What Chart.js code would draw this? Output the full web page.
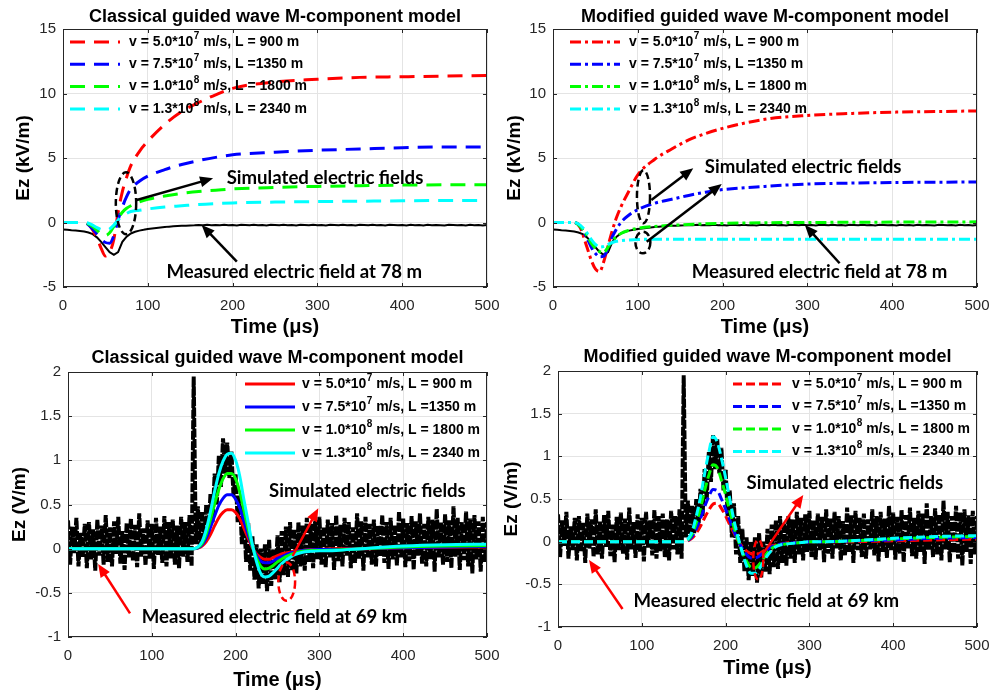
<!DOCTYPE html>
<html>
<head>
<meta charset="utf-8">
<script src="https://cdn.jsdelivr.net/npm/chart.js@4.4.0/dist/chart.umd.min.js"></script>
<style>
  body { margin: 0; background: #fff; }
  .panel { position: absolute; }
</style>
</head>
<body>
<div class="panel" style="left:0;top:0;width:500px;height:340px"><canvas id="tl"></canvas></div>
<div class="panel" style="left:500px;top:0;width:503px;height:340px"><canvas id="tr"></canvas></div>
<div class="panel" style="left:0;top:340px;width:500px;height:353px"><canvas id="bl"></canvas></div>
<div class="panel" style="left:500px;top:340px;width:503px;height:353px"><canvas id="br"></canvas></div>
<script>
// tick labels
var xTicks = [0, 100, 200, 300, 400, 500];
var yTicksKv = [-5, 0, 5, 10, 15];
var yTicksV = [-1, -0.5, 0, 0.5, 1, 1.5, 2];

// legend entries (v, L) for the four simulated cases
var legendPre = ['v = 5.0*10', 'v = 7.5*10', 'v = 1.0*10', 'v = 1.3*10'];
var legendExp = ['7', '7', '8', '8'];
var legendPost = [' m/s, L = 900 m', ' m/s, L =1350 m', ' m/s, L = 1800 m', ' m/s, L = 2340 m'];
var seriesColors = ['#ff0000', '#0000ff', '#00ff00', '#00ffff'];

// measured field at 78 m (kV/m), sampled every 5 us from 0 to 500 us
var measTopStep = 5;
var measTop = [
  -0.55, -0.57, -0.6, -0.62, -0.66, -0.7, -0.78, -0.9, -1.15, -1.5,
  -1.9, -2.3, -2.5, -2.3, -1.5, -1.1, -0.85, -0.72, -0.63, -0.57,
  -0.5, -0.46, -0.42, -0.38, -0.35, -0.32, -0.3, -0.28, -0.26, -0.25,
  -0.23, -0.22, -0.2, -0.21, -0.18, -0.22, -0.19, -0.21, -0.17, -0.22,
  -0.19, -0.23, -0.18, -0.2, -0.22, -0.17, -0.21, -0.19, -0.23, -0.18,
  -0.2, -0.22, -0.17, -0.21, -0.19, -0.24, -0.18, -0.2, -0.22, -0.17,
  -0.21, -0.19, -0.23, -0.18, -0.2, -0.22, -0.17, -0.21, -0.2, -0.24,
  -0.18, -0.2, -0.22, -0.17, -0.21, -0.19, -0.23, -0.18, -0.2, -0.22,
  -0.19, -0.24, -0.18, -0.21, -0.2, -0.23, -0.17, -0.22, -0.19, -0.21,
  -0.24, -0.18, -0.2, -0.22, -0.19, -0.23, -0.18, -0.21, -0.2, -0.24,
  -0.2
];

// measured field at 69 km (V/m), sampled every 2.5 us from 0 to 500 us
var measBotStep = 2.5;
var measBot = [
  0.32, -0.18, 0.25, -0.05, 0.35, -0.2, 0.18, -0.1, 0.28, -0.22,
  0.3, -0.12, 0.22, -0.25, 0.33, -0.08, 0.26, -0.18, 0.38, -0.15,
  0.24, -0.2, 0.31, -0.06, 0.36, -0.17, 0.2, -0.24, 0.29, -0.1,
  0.34, -0.14, 0.27, -0.21, 0.4, -0.09, 0.23, -0.19, 0.32, -0.12,
  0.28, -0.23, 0.35, -0.07, 0.25, -0.16, 0.37, -0.2, 0.3, -0.11,
  0.33, -0.18, 0.26, -0.22, 0.36, -0.09, 0.3, -0.15, 0.38, -0.2,
  1.95, 0.05, 0.48, 0.02, 0.42, 0.1, 0.5, 0.15, 0.62, 0.3,
  0.85, 0.5, 1.05, 0.7, 1.25, 0.85, 1.2, 0.8, 1.1, 0.6,
  0.85, 0.3, 0.6, 0.05, 0.45, -0.15, 0.3, -0.25, 0.15, -0.35,
  0.05, -0.45, 0.0, -0.4, 0.05, -0.48, 0.1, -0.42, 0.0, -0.35,
  0.15, -0.38, 0.2, -0.3, 0.25, -0.32, 0.3, -0.25, 0.22, -0.28,
  0.3, -0.2, 0.26, -0.25, 0.35, -0.15, 0.28, -0.22, 0.32, -0.12,
  0.36, -0.18, 0.25, -0.21, 0.33, -0.1, 0.29, -0.24, 0.38, -0.14,
  0.27, -0.2, 0.35, -0.08, 0.3, -0.22, 0.24, -0.16, 0.4, -0.12,
  0.31, -0.25, 0.36, -0.1, 0.28, -0.18, 0.33, -0.2, 0.26, -0.09,
  0.38, -0.16, 0.3, -0.23, 0.35, -0.12, 0.27, -0.19, 0.42, -0.1,
  0.34, -0.21, 0.29, -0.14, 0.37, -0.24, 0.31, -0.08, 0.4, -0.17,
  0.28, -0.2, 0.36, -0.12, 0.33, -0.26, 0.45, -0.1, 0.3, -0.18,
  0.39, -0.15, 0.32, -0.22, 0.48, -0.09, 0.35, -0.24, 0.3, -0.13,
  0.42, -0.2, 0.34, -0.28, 0.38, -0.12, 0.31, -0.26, 0.36, -0.15,
  0.3
];

// simulated fields at 78 m (kV/m)
var tSimTop = [0, 25, 32, 40, 45, 50, 55, 60, 65, 70, 75, 80, 90, 100, 120, 140, 160, 180, 200, 250, 300, 350, 400, 450, 500];
var clsRedTop   = [0, 0, -0.3, -1.2, -2.0, -2.6, -2.3, -1.3, 0.8, 2.4, 3.5, 4.4, 5.5, 6.3, 7.6, 8.6, 9.3, 9.9, 10.4, 10.9, 11.1, 11.25, 11.3, 11.35, 11.4];
var clsBlueTop  = [0, 0, -0.3, -0.9, -1.3, -1.55, -1.6, -1.0, 0.2, 1.2, 2.0, 2.6, 3.2, 3.6, 4.1, 4.5, 4.8, 5.05, 5.25, 5.45, 5.6, 5.7, 5.8, 5.85, 5.85];
var clsGreenTop = [0, 0, -0.2, -0.6, -0.9, -1.0, -0.8, -0.3, 0.3, 0.8, 1.1, 1.3, 1.6, 1.8, 2.05, 2.25, 2.4, 2.5, 2.6, 2.72, 2.8, 2.85, 2.9, 2.92, 2.93];
var clsCyanTop  = [0, 0, -0.1, -0.4, -0.55, -0.6, -0.5, -0.2, 0.2, 0.5, 0.7, 0.85, 0.95, 1.05, 1.2, 1.3, 1.4, 1.47, 1.52, 1.58, 1.62, 1.65, 1.68, 1.7, 1.7];
var modRedTop   = [0, 0, -0.4, -1.9, -2.9, -3.6, -3.8, -3.0, -1.8, -0.6, 0.4, 1.2, 2.5, 3.7, 4.9, 5.7, 6.4, 6.9, 7.3, 8.0, 8.3, 8.45, 8.55, 8.6, 8.65];
var modBlueTop  = [0, 0, -0.3, -1.2, -1.9, -2.4, -2.65, -2.6, -2.0, -1.1, -0.5, 0.0, 0.6, 1.0, 1.5, 1.8, 2.1, 2.35, 2.55, 2.8, 2.98, 3.05, 3.1, 3.12, 3.14];
var modGreenTop = [0, 0, -0.3, -1.0, -1.6, -2.0, -2.25, -2.3, -1.9, -1.4, -1.1, -0.85, -0.6, -0.45, -0.3, -0.22, -0.15, -0.1, -0.07, -0.02, 0.0, 0.02, 0.03, 0.04, 0.05];
var modCyanTop  = [0, 0, -0.2, -0.8, -1.3, -1.7, -1.9, -1.85, -1.7, -1.55, -1.45, -1.4, -1.35, -1.32, -1.3, -1.3, -1.3, -1.3, -1.3, -1.3, -1.3, -1.3, -1.3, -1.3, -1.3];

// simulated fields at 69 km (V/m)
var tSimBot = [0, 100, 150, 155, 160, 165, 170, 175, 180, 185, 190, 195, 200, 205, 210, 215, 220, 225, 230, 235, 240, 245, 250, 255, 260, 265, 270, 280, 290, 300, 320, 350, 400, 450, 500];
var clsRedBot   = [0, 0, 0, 0.008, 0.03, 0.08, 0.16, 0.26, 0.35, 0.41, 0.44, 0.44, 0.41, 0.34, 0.23, 0.12, 0.01, -0.06, -0.1, -0.12, -0.12, -0.1, -0.08, -0.06, -0.05, -0.04, -0.03, -0.02, -0.01, -0.01, 0, 0, 0.01, 0.015, 0.02];
var clsBlueBot  = [0, 0, 0, 0.01, 0.045, 0.12, 0.24, 0.37, 0.49, 0.57, 0.61, 0.61, 0.56, 0.46, 0.31, 0.16, 0.02, -0.08, -0.14, -0.16, -0.16, -0.14, -0.11, -0.09, -0.07, -0.05, -0.04, -0.02, -0.015, -0.01, -0.01, 0, 0.01, 0.02, 0.025];
var clsGreenBot = [0, 0, 0, 0.015, 0.06, 0.17, 0.33, 0.51, 0.67, 0.79, 0.85, 0.85, 0.79, 0.64, 0.43, 0.22, 0.03, -0.11, -0.2, -0.23, -0.22, -0.19, -0.15, -0.12, -0.09, -0.07, -0.05, -0.03, -0.02, -0.02, -0.015, 0, 0.02, 0.03, 0.035];
var clsCyanBot  = [0, 0, 0, 0.02, 0.08, 0.22, 0.42, 0.65, 0.85, 0.99, 1.07, 1.08, 1.0, 0.82, 0.55, 0.3, 0.05, -0.15, -0.28, -0.32, -0.31, -0.27, -0.22, -0.17, -0.13, -0.1, -0.07, -0.04, -0.03, -0.025, -0.02, 0.0, 0.03, 0.045, 0.05];
var modRedBot   = [0, 0, 0, 0.01, 0.04, 0.1, 0.18, 0.28, 0.37, 0.44, 0.45, 0.39, 0.3, 0.2, 0.1, 0.01, -0.06, -0.11, -0.14, -0.15, -0.14, -0.11, -0.08, -0.05, -0.04, -0.03, -0.02, -0.01, -0.01, 0, 0, 0, 0.01, 0.02, 0.03];
var modBlueBot  = [0, 0, 0, 0.015, 0.06, 0.15, 0.27, 0.41, 0.53, 0.61, 0.6, 0.5, 0.38, 0.25, 0.12, 0.01, -0.08, -0.15, -0.19, -0.19, -0.17, -0.13, -0.09, -0.06, -0.04, -0.03, -0.02, -0.015, -0.01, 0, 0, 0.01, 0.02, 0.04, 0.05];
var modGreenBot = [0, 0, 0, 0.02, 0.09, 0.22, 0.39, 0.6, 0.78, 0.9, 0.87, 0.72, 0.55, 0.36, 0.17, 0.02, -0.12, -0.23, -0.3, -0.31, -0.27, -0.2, -0.13, -0.08, -0.05, -0.04, -0.03, -0.02, -0.01, 0, 0, 0.01, 0.03, 0.05, 0.06];
var modCyanBot  = [0, 0, 0, 0.03, 0.12, 0.3, 0.52, 0.8, 1.05, 1.23, 1.17, 0.98, 0.75, 0.5, 0.25, 0.05, -0.13, -0.28, -0.37, -0.37, -0.32, -0.24, -0.16, -0.1, -0.06, -0.04, -0.03, -0.02, -0.01, 0, 0, 0.01, 0.04, 0.06, 0.07];

var FONT = "'Liberation Sans', Arial, sans-serif";
var NOTE_FONT = "bold 18.6px Lato, 'Open Sans', sans-serif";

// annotations (texts, arrows, ellipses) in data coordinates, per canvas
var panelNotes = {
  tl: {
    color: '#000',
    texts: [[193, 3.45, 'Simulated electric fields'], [122, -3.8, 'Measured electric field at 78 m']],
    arrows: [[87, 1.74, 177, 3.43], [205, -3.04, 163.5, -0.19]],
    ellipses: [[74.3, 1.49, 12, 2.4]]
  },
  tr: {
    color: '#000',
    texts: [[179, 4.33, 'Simulated electric fields'], [163.6, -3.8, 'Measured electric field at 78 m']],
    arrows: [[116, 1.74, 165.4, 4.2], [110.5, -1.49, 199, 2.98], [338, -3.16, 297, -0.19]],
    ellipses: [[106.7, 2.0, 7.7, 2.05], [106, -1.55, 8.8, 0.84]]
  },
  bl: {
    color: '#ff0000',
    texts: [[240, 0.656, 'Simulated electric fields'], [88, -0.777, 'Measured electric field at 69 km']],
    arrows: [[268, -0.083, 298.7, 0.457], [74, -0.732, 36, -0.174]],
    ellipses: [[261, -0.374, 10, 0.217]]
  },
  br: {
    color: '#ff0000',
    texts: [[225, 0.69, 'Simulated electric fields'], [90, -0.69, 'Measured electric field at 69 km']],
    arrows: [[245, -0.137, 292.7, 0.547], [77, -0.79, 37, -0.215]],
    ellipses: [[239, -0.21, 6, 0.235]]
  }
};

// legend placement in pixels relative to the plot box
var panelLegends = {
  tl: { side: 'left', lineX: 7, textX: 66, y0: 13, dy: 22.3, dash: [15, 9], width: 3 },
  tr: { side: 'left', lineX: 17, textX: 76, y0: 13, dy: 22.3, dash: [11, 4, 3, 4], width: 3 },
  bl: { side: 'right', lineX: -242, textX: -185, y0: 12, dy: 23, dash: [], width: 3 },
  br: { side: 'right', lineX: -244, textX: -185, y0: 13, dy: 22.5, dash: [9, 4], width: 3 }
};

function points(times, values) {
  return values.map(function(v, i) { return { x: times[i], y: v }; });
}

function stepPoints(step, values) {
  return values.map(function(v, i) { return { x: i * step, y: v }; });
}

function simSets(times, lists, dash, width) {
  return lists.map(function(vals, i) {
    return {
      data: points(times, vals),
      borderColor: seriesColors[i],
      borderDash: dash,
      borderWidth: width,
      pointRadius: 0,
      cubicInterpolationMode: 'monotone',
      order: 4 - i
    };
  });
}

function measSet(data, dash, width) {
  return { data: data, borderColor: '#000', borderDash: dash, borderWidth: width, pointRadius: 0, tension: 0, order: 10 };
}

//box around the plot plus small inward tick marks, like matlab
var framePlugin = {
  id: 'frame',
  afterDatasetsDraw: function(chart) {
    var a = chart.chartArea, ctx = chart.ctx;
    var xs = chart.scales.x, ys = chart.scales.y;
    ctx.save();
    ctx.strokeStyle = '#262626';
    ctx.lineWidth = 1;
    ctx.strokeRect(Math.round(a.left) + 0.5, Math.round(a.top) + 0.5, Math.round(a.right - a.left) - 1, Math.round(a.bottom - a.top) - 1);
    ctx.beginPath();
    xs.ticks.forEach(function(t) {
      var px = Math.round(xs.getPixelForValue(t.value)) + 0.5;
      ctx.moveTo(px, a.bottom); ctx.lineTo(px, a.bottom - 4);
      ctx.moveTo(px, a.top); ctx.lineTo(px, a.top + 4);
    });
    ys.ticks.forEach(function(t) {
      var py = Math.round(ys.getPixelForValue(t.value)) + 0.5;
      ctx.moveTo(a.left, py); ctx.lineTo(a.left + 4, py);
      ctx.moveTo(a.right, py); ctx.lineTo(a.right - 4, py);
    });
    ctx.stroke();
    ctx.restore();
  }
};

function drawArrow(ctx, x0, y0, x1, y1, color) {
  var ang = Math.atan2(y1 - y0, x1 - x0);
  var c = Math.cos(ang), s = Math.sin(ang);
  var head = 13, half = 5.5;
  ctx.strokeStyle = color;
  ctx.fillStyle = color;
  ctx.lineWidth = 2.5;
  ctx.setLineDash([]);
  ctx.beginPath();
  ctx.moveTo(x0, y0);
  ctx.lineTo(x1 - head * 0.8 * c, y1 - head * 0.8 * s);
  ctx.stroke();
  ctx.beginPath();
  ctx.moveTo(x1, y1);
  ctx.lineTo(x1 - head * c + half * s, y1 - head * s - half * c);
  ctx.lineTo(x1 - head * c - half * s, y1 - head * s + half * c);
  ctx.closePath();
  ctx.fill();
}

var notesPlugin = {
  id: 'notes',
  afterDatasetsDraw: function(chart) {
    var n = panelNotes[chart.canvas.id];
    if (!n) return;
    var ctx = chart.ctx, xs = chart.scales.x, ys = chart.scales.y;
    ctx.save();
    n.ellipses.forEach(function(e) {
      var cx = xs.getPixelForValue(e[0]), cy = ys.getPixelForValue(e[1]);
      var rx = Math.abs(xs.getPixelForValue(e[0] + e[2]) - cx);
      var ry = Math.abs(ys.getPixelForValue(e[1] + e[3]) - cy);
      ctx.strokeStyle = n.color;
      ctx.lineWidth = 2.5;
      ctx.setLineDash([7, 4]);
      ctx.beginPath();
      ctx.ellipse(cx, cy, rx, ry, 0, 0, Math.PI * 2);
      ctx.stroke();
    });
    n.arrows.forEach(function(r) {
      drawArrow(ctx, xs.getPixelForValue(r[0]), ys.getPixelForValue(r[1]),
        xs.getPixelForValue(r[2]), ys.getPixelForValue(r[3]), n.color);
    });
    ctx.fillStyle = '#000';
    ctx.font = NOTE_FONT;
    ctx.textAlign = 'left';
    ctx.textBaseline = 'middle';
    n.texts.forEach(function(t) {
      ctx.fillText(t[2], xs.getPixelForValue(t[0]), ys.getPixelForValue(t[1]));
    });
    ctx.restore();
  }
};

//legend drawn inside the axes, with the exponent raised
var legendPlugin = {
  id: 'inlegend',
  afterDraw: function(chart) {
    var L = panelLegends[chart.canvas.id];
    var a = chart.chartArea, ctx = chart.ctx;
    var base = L.side === 'left' ? a.left : a.right;
    ctx.save();
    ctx.textBaseline = 'middle';
    ctx.textAlign = 'left';
    for (var i = 0; i < legendPre.length; i++) {
      var y = a.top + L.y0 + i * L.dy;
      ctx.strokeStyle = seriesColors[i];
      ctx.lineWidth = L.width;
      ctx.setLineDash(L.dash);
      ctx.beginPath();
      ctx.moveTo(base + L.lineX, y);
      ctx.lineTo(base + L.lineX + 50, y);
      ctx.stroke();
      var x = base + L.textX;
      ctx.fillStyle = '#000';
      ctx.font = 'bold 14px ' + FONT;
      ctx.fillText(legendPre[i], x, y);
      x += ctx.measureText(legendPre[i]).width + 0.5;
      ctx.font = 'bold 10px ' + FONT;
      ctx.fillText(legendExp[i], x, y - 6);
      x += ctx.measureText(legendExp[i]).width;
      ctx.font = 'bold 14px ' + FONT;
      ctx.fillText(legendPost[i], x, y);
    }
    ctx.restore();
  }
};

function buildPanel(id, p) {
  return new Chart(document.getElementById(id), {
    type: 'line',
    data: { datasets: p.datasets },
    options: {
      responsive: true,
      maintainAspectRatio: false,
      animation: false,
      events: [],
      layout: { padding: { left: 0, right: p.padRight, top: 0, bottom: 0 } },
      plugins: {
        legend: { display: false },
        tooltip: { enabled: false },
        title: {
          display: true,
          text: p.title,
          fullSize: false,
          color: '#000',
          font: { family: FONT, size: 18, weight: 'bold' },
          padding: { top: p.titleTop, bottom: p.titleBottom }
        }
      },
      scales: {
        x: {
          type: 'linear',
          min: 0,
          max: 500,
          afterBuildTicks: function(scale) {
            scale.ticks = xTicks.map(function(v) { return { value: v }; });
          },
          afterFit: function(scale) {
            scale.height = p.xHeight;
            scale.paddingLeft = 0;
            scale.paddingRight = 0;
          },
          ticks: {
            color: '#262626',
            font: { family: FONT, size: 15 },
            padding: 10,
            maxRotation: 0,
            callback: function(v) { return String(v); }
          },
          grid: { color: '#e4e4e4', drawTicks: false },
          border: { display: false },
          title: {
            display: true,
            text: 'Time (\u03bcs)',
            color: '#000',
            font: { family: FONT, size: 20, weight: 'bold' },
            padding: { top: 0, bottom: p.xTitlePad }
          }
        },
        y: {
          type: 'linear',
          min: p.yTicks[0],
          max: p.yTicks[p.yTicks.length - 1],
          afterBuildTicks: function(scale) {
            scale.ticks = p.yTicks.map(function(v) { return { value: v }; });
          },
          afterFit: function(scale) {
            scale.width = p.yWidth;
            scale.paddingTop = 0;
            scale.paddingBottom = 0;
          },
          ticks: {
            color: '#262626',
            font: { family: FONT, size: 15 },
            padding: 7,
            callback: function(v) { return String(v); }
          },
          grid: { color: '#e4e4e4', drawTicks: false },
          border: { display: false },
          title: {
            display: true,
            text: p.yLabel,
            color: '#000',
            font: { family: FONT, size: 19, weight: 'bold' },
            padding: { top: p.yTitlePad, bottom: 0 }
          }
        }
      }
    },
    plugins: [framePlugin, notesPlugin, legendPlugin]
  });
}

var measTopPts = stepPoints(measTopStep, measTop);
var measBotPts = stepPoints(measBotStep, measBot);

buildPanel('tl', {
  title: 'Classical guided wave M-component model',
  yTicks: yTicksKv, yLabel: 'Ez (kV/m)',
  yWidth: 63, yTitlePad: 12, xHeight: 53, xTitlePad: 0.5, padRight: 13,
  titleTop: 5.9, titleBottom: 1.5,
  datasets: [measSet(measTopPts, [], 2)].concat(
    simSets(tSimTop, [clsRedTop, clsBlueTop, clsGreenTop, clsCyanTop], [15, 9], 3))
});

buildPanel('tr', {
  title: 'Modified guided wave M-component model',
  yTicks: yTicksKv, yLabel: 'Ez (kV/m)',
  yWidth: 53, yTitlePad: 3.5, xHeight: 53, xTitlePad: 0.5, padRight: 26,
  titleTop: 5.9, titleBottom: 1.5,
  datasets: [measSet(measTopPts, [], 2)].concat(
    simSets(tSimTop, [modRedTop, modBlueTop, modGreenTop, modCyanTop], [11, 4, 3, 4], 3))
});

buildPanel('bl', {
  title: 'Classical guided wave M-component model',
  yTicks: yTicksV, yLabel: 'Ez (V/m)',
  yWidth: 68, yTitlePad: 8.5, xHeight: 56, xTitlePad: 1, padRight: 13,
  titleTop: 7.5, titleBottom: 2.9,
  datasets: [measSet(measBotPts, [9, 1.5], 4)].concat(
    simSets(tSimBot, [clsRedBot, clsBlueBot, clsGreenBot, clsCyanBot], [], 3))
});

buildPanel('br', {
  title: 'Modified guided wave M-component model',
  yTicks: yTicksV, yLabel: 'Ez (V/m)',
  yWidth: 58, yTitlePad: 0, xHeight: 66, xTitlePad: 13, padRight: 26,
  titleTop: 6.5, titleBottom: 2.9,
  datasets: [measSet(measBotPts, [9, 1.5], 4)].concat(
    simSets(tSimBot, [modRedBot, modBlueBot, modGreenBot, modCyanBot], [9, 4], 3))
});
</script>
</body>
</html>
